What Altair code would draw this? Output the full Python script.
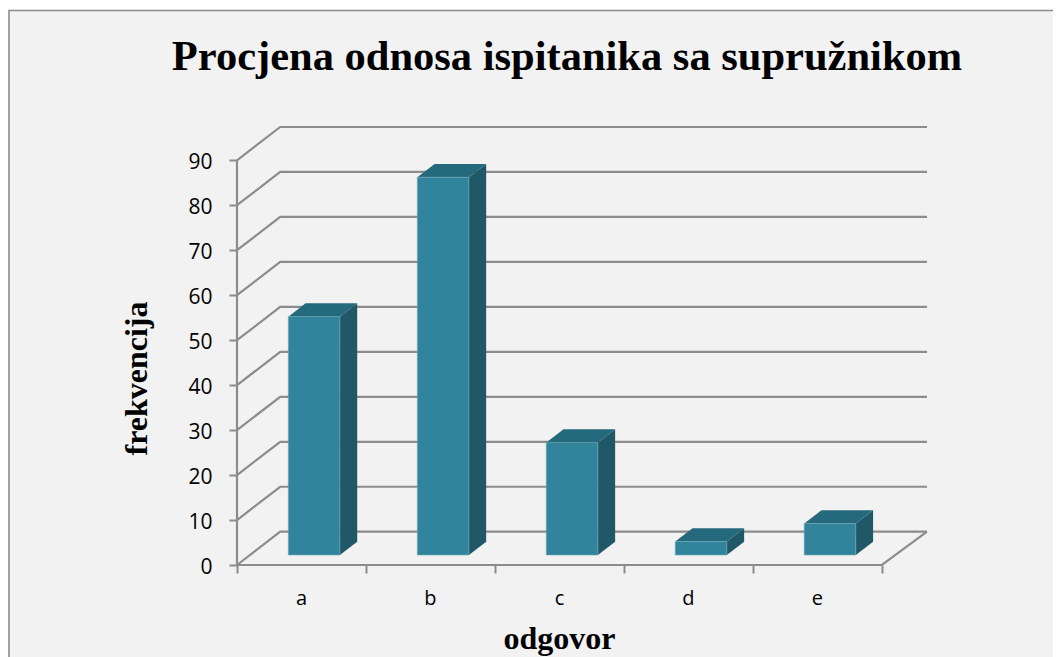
import altair as alt
import pandas as pd

categories = ["a", "b", "c", "d", "e"]
values = [53, 84, 25, 3, 7]
grid_levels = [0, 10, 20, 30, 40, 50, 60, 70, 80, 90]
title_text = "Procjena odnosa ispitanika sa supružnikom"

# 3-D projection, expressed in scale units
WALL_DX = 0.335
WALL_DY = 7.4
BAR_DX = 0.134
BAR_DY = 2.96
FLOOR_DY = 2.22
BAR_LEFT = 0.398
BAR_W = 0.40
X_MAX = len(categories) + 0.35
Y_MAX = 90 + WALL_DY

FRONT, SIDE, TOP = "#31849B", "#205867", "#25697C"
GRID = "#8C8C8C"
BG = "#F2F2F2"

grid_rows = []
for lv in grid_levels:
    if lv == 0:
        grid_rows.append({"lv": lv, "x": 0, "y": lv})
        grid_rows.append({"lv": lv, "x": len(categories), "y": lv})
        grid_rows.append({"lv": lv, "x": X_MAX, "y": lv + WALL_DY})
        grid_rows.append({"lv": -1, "x": 0, "y": lv})
        grid_rows.append({"lv": -1, "x": WALL_DX, "y": lv + WALL_DY})
        grid_rows.append({"lv": -1, "x": X_MAX, "y": lv + WALL_DY})
    else:
        grid_rows.append({"lv": lv, "x": 0, "y": lv})
        grid_rows.append({"lv": lv, "x": WALL_DX, "y": lv + WALL_DY})
        grid_rows.append({"lv": lv, "x": X_MAX, "y": lv + WALL_DY})
grid_df = pd.DataFrame(grid_rows)

front_rows, side_rows, top_rows = [], [], []
for i, (c, v) in enumerate(zip(categories, values)):
    L = i + BAR_LEFT
    R = L + BAR_W
    B = FLOOR_DY
    T = B + v
    front_rows.append({"c": c, "L": L, "R": R, "B": B, "T": T})
    side_rows += [
        {"c": c, "x": R, "y": T, "y2": B},
        {"c": c, "x": R + BAR_DX, "y": T + BAR_DY, "y2": B + BAR_DY},
    ]
    top_rows += [
        {"c": c, "x": L, "y": T, "y2": T},
        {"c": c, "x": L + BAR_DX, "y": T + BAR_DY, "y2": T},
        {"c": c, "x": R, "y": T + BAR_DY, "y2": T},
        {"c": c, "x": R + BAR_DX, "y": T + BAR_DY, "y2": T + BAR_DY},
    ]
front_df = pd.DataFrame(front_rows)
side_df = pd.DataFrame(side_rows)
top_df = pd.DataFrame(top_rows)

tick_labels = categories + [""]
label_expr = "[" + ",".join(f"'{s}'" for s in tick_labels) + "][datum.value]"

x_scale = alt.Scale(domain=[0, X_MAX], nice=False, zero=False)
y_scale = alt.Scale(domain=[0, Y_MAX], nice=False, zero=False)

x_axis = alt.Axis(
    values=list(range(len(categories) + 1)), labelExpr=label_expr, labelOffset=64, labelFlush=False,
    labelFont="Open Sans", labelFontSize=20, labelColor="#000", labelAngle=0, labelPadding=15,
    tickColor=GRID, tickWidth=2, tickSize=8, domain=False, grid=False, zindex=1,
    title="odgovor", titleFont="Liberation Serif", titleFontWeight="bold", titleFontSize=32,
    titleColor="#000", titleX=322, titleY=83, titleBaseline="alphabetic", titleAlign="center",
)
y_axis = alt.Axis(
    values=grid_levels, labelFont="Open Sans", labelFontSize=21, labelColor="#000", labelPadding=17,
    labelOffset=2,
    tickColor=GRID, tickWidth=2, tickSize=8, domain=False, grid=False, zindex=1,
    title="frekvencija", titleFont="Liberation Serif", titleFontWeight="bold", titleFontSize=32,
    titleColor="#000", titleX=-91, titleY=251, titleBaseline="alphabetic", titleAlign="center", titleAngle=270,
)

frame = alt.Chart(pd.DataFrame({"f": [0]})).mark_rect(fill=BG, stroke=GRID, strokeWidth=1.6).encode(
    x=alt.value(-228), x2=alt.value(1000), y=alt.value(-116.5), y2=alt.value(700)
)
title = alt.Chart(pd.DataFrame({"t": [title_text]})).mark_text(
    font="Liberation Serif", fontWeight="bold", fontSize=42.5, color="#000", align="center", baseline="alphabetic",
).encode(x=alt.value(330), y=alt.value(-57), text="t:N")
grid = alt.Chart(grid_df).mark_line(color=GRID, strokeWidth=2.2).encode(
    x=alt.X("x:Q", scale=x_scale, axis=x_axis),
    y=alt.Y("y:Q", scale=y_scale, axis=y_axis),
    detail="lv:N",
)
y_line = alt.Chart(pd.DataFrame({"x": [0], "a": [0], "b": [90]})).mark_rule(color=GRID, strokeWidth=2.2).encode(
    x=alt.X("x:Q", scale=x_scale), y=alt.Y("a:Q", scale=y_scale), y2="b:Q"
)
side = alt.Chart(side_df).mark_area(color=SIDE).encode(
    x=alt.X("x:Q", scale=x_scale), y=alt.Y("y:Q", scale=y_scale, stack=None), y2="y2:Q", detail="c:N"
)
top = alt.Chart(top_df).mark_area(color=TOP).encode(
    x=alt.X("x:Q", scale=x_scale), y=alt.Y("y:Q", scale=y_scale, stack=None), y2="y2:Q", detail="c:N"
)
front = alt.Chart(front_df).mark_rect(color=FRONT, stroke="#6FA9B8", strokeWidth=0.6).encode(
    x=alt.X("L:Q", scale=x_scale), x2="R:Q", y=alt.Y("B:Q", scale=y_scale), y2="T:Q"
)

chart = alt.layer(frame, title, grid, y_line, side, top, front).properties(
    width=690,
    height=438,
    padding={"left": 229, "top": 119, "right": 126, "bottom": 92},
    autosize=alt.AutoSizeParams(type="none"),
    background="white",
).configure_view(stroke=None)

chart.save("out.html", embed_options={"renderer": "svg", "actions": False})
